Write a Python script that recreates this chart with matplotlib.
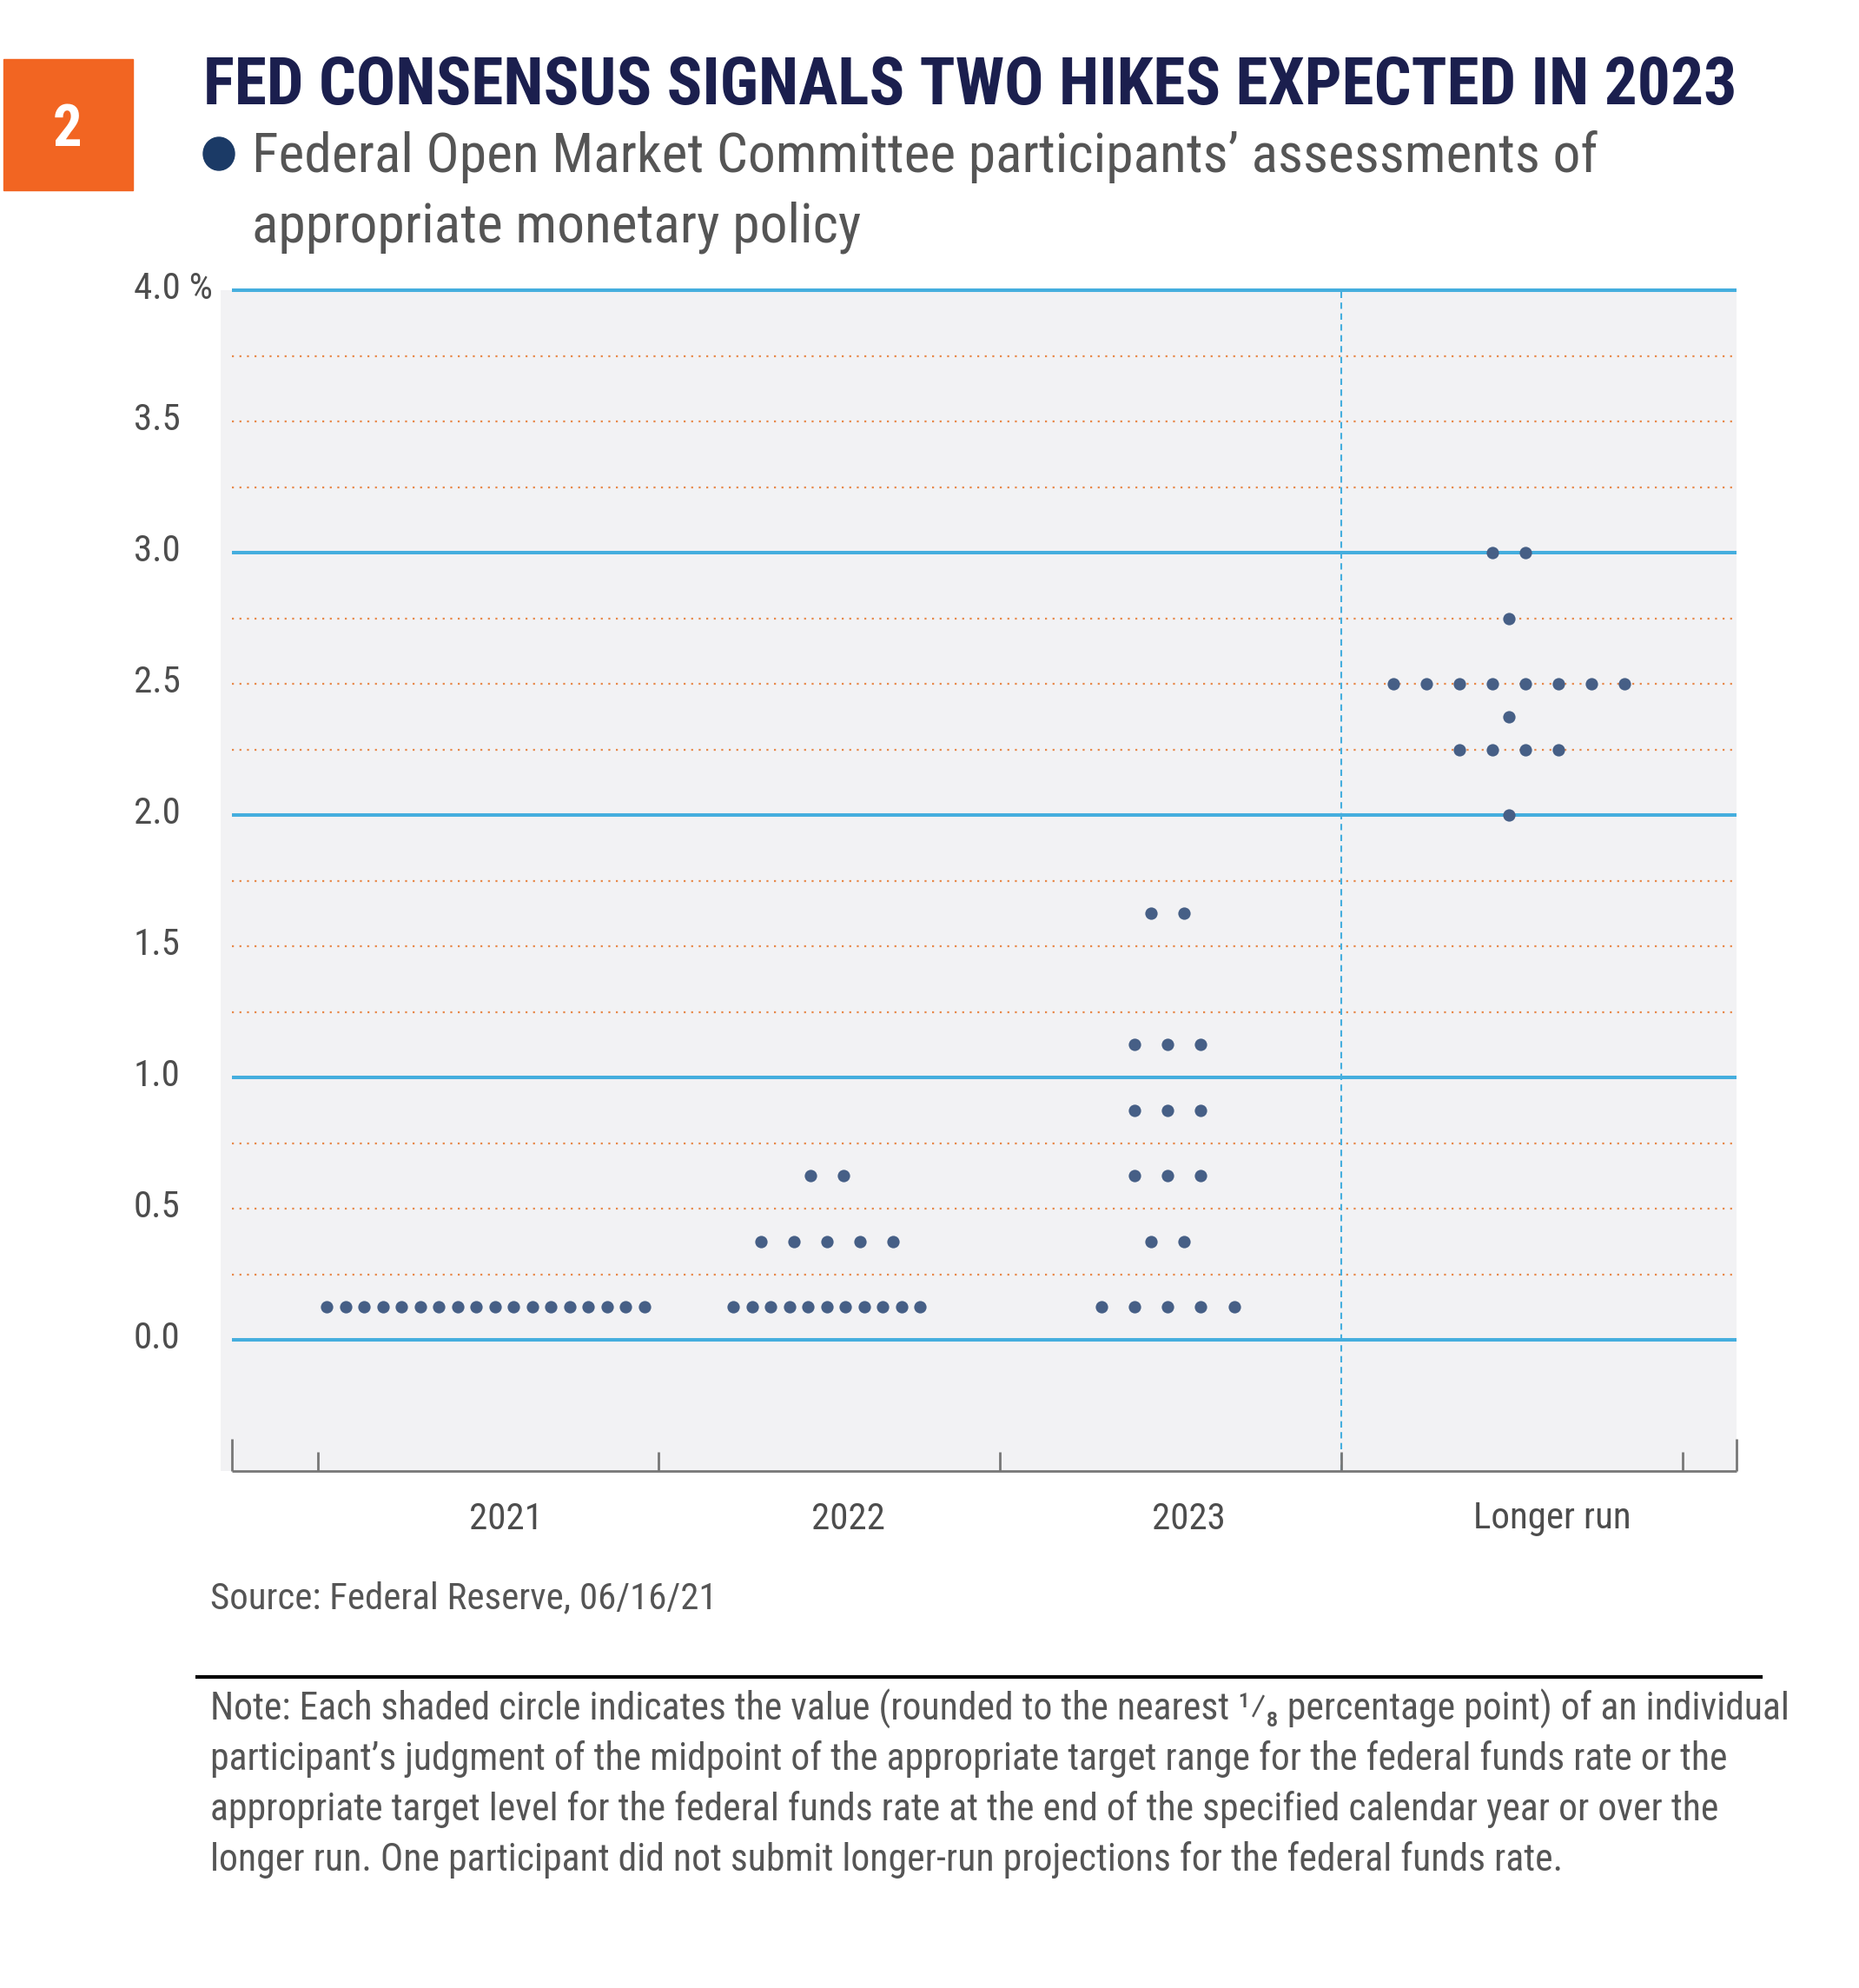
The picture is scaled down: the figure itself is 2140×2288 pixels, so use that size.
import matplotlib
matplotlib.use('Agg')
import matplotlib.pyplot as plt
import matplotlib.transforms as mtransforms
from matplotlib.patches import Rectangle, Ellipse

W, H = 2140, 2288
FONT = ['Roboto Condensed', 'Liberation Sans Narrow', 'DejaVu Sans']

categories = ['2021', '2022', '2023', 'Longer run']
# (rate, number of participants) per column of the dot plot
dots_2021 = [(0.125, 18)]
dots_2022 = [(0.125, 11), (0.375, 5), (0.625, 2)]
dots_2023 = [(0.125, 5), (0.375, 2), (0.625, 3), (0.875, 3), (1.125, 3), (1.625, 2)]
dots_longer = [(2.0, 1), (2.25, 4), (2.375, 1), (2.5, 8), (2.75, 1), (3.0, 2)]
all_dots = [dots_2021, dots_2022, dots_2023, dots_longer]

y_ticks = [0.0, 0.5, 1.0, 1.5, 2.0, 2.5, 3.0, 3.5, 4.0]
y_labels = ['0.0', '0.5', '1.0', '1.5', '2.0', '2.5', '3.0', '3.5', '4.0 %']
solid_lines = [0, 1, 2, 3, 4]
dotted_lines = [0.25, 0.5, 0.75, 1.25, 1.5, 1.75, 2.25, 2.5, 2.75, 3.25, 3.5, 3.75]

title = 'FED CONSENSUS SIGNALS TWO HIKES EXPECTED IN 2023'
subtitle = ['Federal Open Market Committee participants\u2019 assessments of',
            'appropriate monetary policy']
source = 'Source: Federal Reserve, 06/16/21'
note = ['Note: Each shaded circle indicates the value (rounded to the nearest \u00b9\u2044\u2088 percentage point) of an individual',
        'participant\u2019s judgment of the midpoint of the appropriate target range for the federal funds rate or the',
        'appropriate target level for the federal funds rate at the end of the specified calendar year or over the',
        'longer run. One participant did not submit longer-run projections for the federal funds rate.']

BLUE = '#45aede'
ORANGE = '#e8894a'
DOT = '#465f86'
GREY_TXT = '#4d4d4d'


def fx(x):
    return x / W


def fy(y):
    return 1 - y / H


fig = plt.figure(figsize=(W / 100, H / 100), dpi=100)
fig.patch.set_facecolor('white')

# header
fig.patches.append(Rectangle((fx(4), fy(219)), 149 / W, 151 / H, transform=fig.transFigure,
                             color='#f26522', zorder=1))
fig.text(fx(78), fy(168), '2', color='white', fontsize=48, fontweight='bold',
         family=FONT, ha='center', va='baseline')
fig.text(fx(234), fy(120), title, color='#1b1f4e', fontsize=54.4, fontweight='black',
         family=FONT, ha='left', va='baseline')
fig.patches.append(Ellipse((fx(252), fy(177)), 36 / W, 38 / H, transform=fig.transFigure,
                           color='#1b3a66'))
fig.text(fx(290), fy(198), subtitle[0], color='#555555', fontsize=45.7, family=FONT,
         ha='left', va='baseline')
fig.text(fx(290), fy(278), subtitle[1], color='#555555', fontsize=45.7, family=FONT,
         ha='left', va='baseline')

# plot area
ax = fig.add_axes([fx(254), fy(1693), (1999 - 254) / W, (1693 - 334) / H])
ax.set_facecolor('#f2f2f4')
x_lo, x_hi = 0.2153, 4.659
line_start = 0.2484
ax.set_xlim(x_lo, x_hi)
ax.set_ylim(-0.5, 4.0)
for s in ax.spines.values():
    s.set_visible(False)
ax.set_xticks([])
ax.set_yticks([])

ax.hlines(dotted_lines, line_start, x_hi, colors=ORANGE, linewidth=1.6,
          linestyles=[(0, (1, 2.9))], zorder=2)
ax.hlines(solid_lines, line_start, x_hi, colors=BLUE, linewidth=2.9, zorder=3, clip_on=False)
ax.vlines(3.5, -0.5, 4.0, colors=BLUE, linewidth=1.5, linestyles=[(0, (3.5, 2.5))], zorder=3)

# bottom axis with ticks
ax.hlines(-0.5, line_start, x_hi, colors='#777777', linewidth=2.0, clip_on=False, zorder=4)
ax.vlines([line_start, x_hi], -0.5, -0.5 + 0.1225, colors='#777777', linewidth=2.0,
          clip_on=False, zorder=4)
ax.vlines([0.5, 1.5, 2.5, 3.5, 4.5], -0.5, -0.5 + 0.073, colors='#777777', linewidth=2.0,
          clip_on=False, zorder=4)

# dots
for i, col in enumerate(all_dots):
    center = i + 1 - 0.008
    for rate, n in col:
        step = 0.0548 if n > 8 else 0.097
        xs = [center + (k - (n - 1) / 2) * step for k in range(n)]
        ax.scatter(xs, [rate] * n, s=105, color=DOT, linewidths=0, zorder=6, clip_on=False)

# y labels, left aligned
ytrans = mtransforms.blended_transform_factory(fig.transFigure, ax.transData)
for v, lab in zip(y_ticks, y_labels):
    ax.text(fx(154), v + 0.006, lab, transform=ytrans, fontsize=31, color=GREY_TXT,
            family=FONT, ha='left', va='center')

# category labels
xtrans = mtransforms.blended_transform_factory(ax.transData, fig.transFigure)
label_shift = [0.051, 0.056, 0.054, 0.119]
for i, (cat, sh) in enumerate(zip(categories, label_shift)):
    ax.text(i + 1 + sh, fy(1748), cat, transform=xtrans, fontsize=31, color=GREY_TXT,
            family=FONT, ha='center', va='center')

# footer
fig.text(fx(242), fy(1840), source, color='#555555', fontsize=30.9, family=FONT,
         ha='left', va='center')
fig.lines.append(plt.Line2D([fx(227), fx(2027)], [fy(1930), fy(1930)], transform=fig.transFigure,
                            color='black', linewidth=3))
for k, line in enumerate(note):
    fig.text(fx(242), fy(1967 + 58 * k), line, color='#555555', fontsize=31.5, family=FONT,
             ha='left', va='center')

fig.savefig('out.png', dpi=100)
